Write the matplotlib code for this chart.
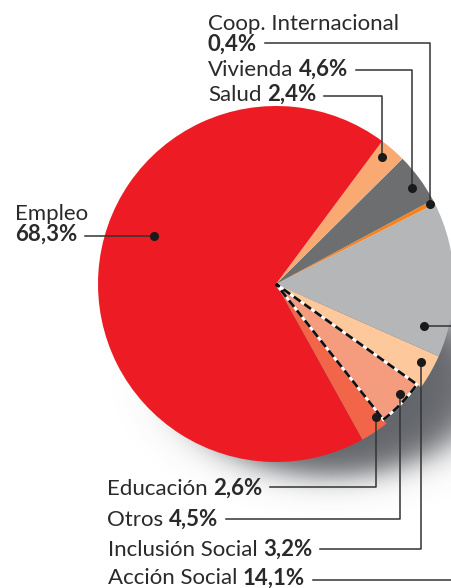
import numpy as np
import matplotlib.pyplot as plt
from matplotlib.patches import Wedge

plt.rcParams['font.family'] = ['Lato', 'DejaVu Sans']

# Datos (orden antihorario desde Educación)
categorias = ["Educación", "Otros", "Inclusión Social", "Acción Social",
              "Coop. Internacional", "Vivienda", "Salud", "Empleo"]
porcentajes = [2.6, 4.5, 3.2, 14.1, 0.4, 4.6, 2.4, 68.3]
colores = ["#F26548", "#F59B7E", "#FCC89C", "#B5B6B8",
           "#F7821F", "#6D6E70", "#F9AA72", "#ED1C24"]

# posición del punto de cada guía dentro de su porción (fracción de ángulo, fracción de radio)
frac_ang = [0.85, 0.62, 0.62, 0.16, 0.5, 0.42, 0.62, 0.428]
frac_rad = [0.933, 0.933, 0.927, 0.865, 0.978, 0.933, 0.927, 0.736]

W, H = 451, 588
fig = plt.figure(figsize=(W / 100, H / 100), dpi=100)
ax = fig.add_axes([0, 0, 1, 1])


def py(y):
    # pixel desde arriba -> coordenada y de datos
    return H - y


cx, cy, R = 276, py(284), 178
fs = 16
ct = "#2a2a2a"
cl = "#333333"

# Sombra
xs = np.arange(W) + 0.5
ys = np.arange(H) + 0.5
X, Y = np.meshgrid(xs, ys)
sx, sy, sa, sb = 332, py(380), 152, 96
d = (np.sqrt(((X - sx) / sa) ** 2 + ((Y - sy) / sb) ** 2) - 1) * sb
img = np.zeros((H, W, 4))
img[..., :3] = (0.32, 0.33, 0.35)
img[..., 3] = 0.9 / (1 + np.exp(d / 8))
ax.imshow(img, extent=(0, W, 0, H), origin='lower', zorder=0, interpolation='bilinear')

# Tarta
wedges, _ = ax.pie(porcentajes, colors=colores, startangle=-61, radius=R,
                   center=(cx, cy), wedgeprops=dict(linewidth=0))

# "Otros" con borde discontinuo
w = wedges[1]
w.set_radius(R * 0.972)
for ec, ls in [("white", "-"), ("#111111", (0, (3, 1.6)))]:
    ax.add_patch(Wedge((cx, cy), R * 0.972, w.theta1, w.theta2, fill=False,
                       ec=ec, lw=2.0, ls=ls, zorder=3, joinstyle='miter'))

# puntos de las guías
puntos = []
for wg, fa, fr in zip(wedges, frac_ang, frac_rad):
    a = np.deg2rad(wg.theta1 + fa * (wg.theta2 - wg.theta1))
    puntos.append((cx + fr * R * np.cos(a), cy + fr * R * np.sin(a)))
for p in puntos:
    ax.plot(*p, 'o', color="#1a1a1a", ms=5.5, zorder=5)


def pct_txt(v):
    return f"{v:.1f}".replace(".", ",") + "%"


def etiqueta(x, yb, nombre, pct):
    if nombre:
        t1 = ax.text(x, py(yb), nombre, fontsize=fs, va='baseline', color=ct)
        t2 = ax.annotate(pct, xy=(1, 0), xycoords=t1, xytext=(4, 0),
                         textcoords='offset points', va='bottom', ha='left',
                         fontsize=fs, weight='bold', color=ct)
    else:
        t2 = ax.text(x, py(yb), pct, fontsize=fs, va='baseline', color=ct, weight='bold')
    return t2


# etiquetas y altura de su guía
fin = {}
ax.text(208, py(30.5), categorias[4], fontsize=fs, va='baseline', color=ct)
fin[4] = (etiqueta(208, 51, None, pct_txt(porcentajes[4])), 43)
fin[5] = (etiqueta(208, 76, categorias[5], pct_txt(porcentajes[5])), 69.5)
fin[6] = (etiqueta(208, 101, categorias[6], pct_txt(porcentajes[6])), 96)
ax.text(15, py(219.5), categorias[7], fontsize=fs, va='baseline', color=ct)
fin[7] = (etiqueta(15, 240.5, None, pct_txt(porcentajes[7])), None)
fin[0] = (etiqueta(107, 495, categorias[0], pct_txt(porcentajes[0])), 487)
fin[1] = (etiqueta(107, 526, categorias[1], pct_txt(porcentajes[1])), 519)
fin[2] = (etiqueta(108, 555.5, categorias[2], pct_txt(porcentajes[2])), 549)
fin[3] = (etiqueta(108, 584.5, categorias[3], pct_txt(porcentajes[3])), 580)

ax.set_xlim(0, W)
ax.set_ylim(0, H)
ax.set_aspect('auto')
ax.axis('off')

fig.canvas.draw()
r = fig.canvas.get_renderer()
for i, (t, ly) in fin.items():
    x0 = t.get_window_extent(r).x1 + 8
    px, pyy = puntos[i]
    if i == 7:
        ax.plot([x0, px], [pyy, pyy], color=cl, lw=1.1, zorder=4)
    elif i == 3:
        ax.plot([x0, W + 5, W + 5, px], [py(ly), py(ly), pyy, pyy], color=cl, lw=1.1, zorder=4)
    else:
        ax.plot([x0, px, px], [py(ly), py(ly), pyy], color=cl, lw=1.1, zorder=4)

fig.savefig("out.png", dpi=100)
